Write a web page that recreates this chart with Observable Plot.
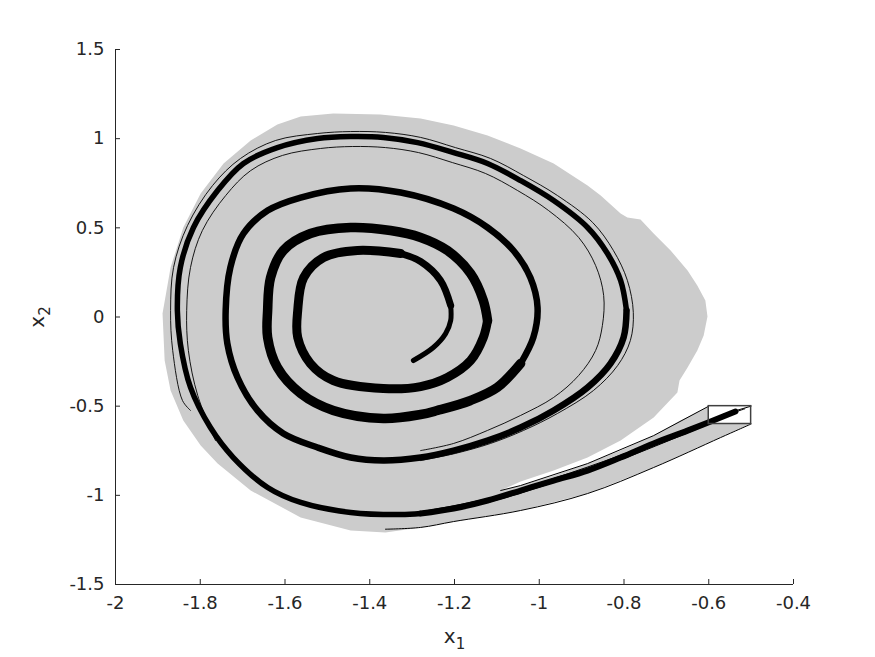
<!DOCTYPE html>
<html><head><meta charset="utf-8">
<script src="https://cdn.jsdelivr.net/npm/d3@7"></script>
<script src="https://cdn.jsdelivr.net/npm/@observablehq/plot@0.6"></script>
<style>
body{margin:0;background:#fff;}
#chart svg{display:block;}
</style></head><body><div id="chart"></div>
<script>
// ---- tick values ----
const xTicks = [-2, -1.8, -1.6, -1.4, -1.2, -1, -0.8, -0.6, -0.4];
const yTicks = [-1.5, -1, -0.5, 0, 0.5, 1, 1.5];

// ---- reachable set (gray region outline) ----
const reachSet = [
  [-0.600,-0.500],[-0.667,-0.580],[-0.730,-0.665],[-0.808,-0.749],[-0.886,-0.822],[-0.966,-0.889],
  [-1.044,-0.945],[-1.091,-0.973],[-1.044,-0.923],[-0.966,-0.861],[-0.886,-0.788],[-0.808,-0.693],
  [-0.730,-0.564],[-0.674,-0.423],[-0.669,-0.356],[-0.650,-0.283],[-0.627,-0.188],[-0.612,-0.104],
  [-0.603,0.003],[-0.608,0.093],[-0.627,0.177],[-0.650,0.261],[-0.690,0.373],[-0.730,0.468],
  [-0.761,0.547],[-0.792,0.558],[-0.808,0.580],[-0.855,0.681],[-0.886,0.737],[-0.966,0.861],
  [-1.044,0.945],[-1.122,1.018],[-1.202,1.074],[-1.280,1.113],[-1.375,1.136],[-1.486,1.141],
  [-1.563,1.124],[-1.618,1.079],[-1.681,0.990],[-1.745,0.861],[-1.799,0.692],[-1.840,0.502],
  [-1.870,0.278],[-1.889,0.020],[-1.884,-0.244],[-1.870,-0.412],[-1.840,-0.580],[-1.799,-0.721],
  [-1.759,-0.822],[-1.681,-0.973],[-1.563,-1.124],[-1.445,-1.197],[-1.363,-1.209],[-1.280,-1.180],
  [-1.202,-1.147],[-1.044,-1.085],[-0.886,-0.990],[-0.730,-0.844],[-0.572,-0.676],[-0.500,-0.600],
  [-0.600,-0.600]
];

// ---- tube edges ----
const tubeUpper = [[-0.600,-0.500],[-0.730,-0.665],[-0.886,-0.822],[-1.044,-0.945],[-1.091,-0.973]];
const tubeLower = [[-0.500,-0.600],[-0.572,-0.676],[-0.730,-0.844],[-0.886,-0.990],[-1.044,-1.085],[-1.202,-1.147],[-1.280,-1.180],[-1.363,-1.190]];
const boxDiagonal = [[-0.500,-0.500],[-0.565,-0.545]];

// ---- initial set ----
const initBox = [{x1: -0.6, x2: -0.5, y1: -0.6, y2: -0.5}];

// ---- simulated trajectory bundle (centre line, piecewise) ----
const tube = [
  [-0.537,-0.530],[-0.650,-0.637],[-0.730,-0.709],[-0.808,-0.788],[-0.886,-0.861],[-0.966,-0.917],
  [-1.044,-0.973],[-1.122,-1.029],[-1.202,-1.074],[-1.280,-1.102]
];
const tubeFanA = [[-0.515,-0.515],[-0.650,-0.625],[-0.808,-0.775],[-0.966,-0.905],[-1.122,-1.018],[-1.280,-1.092]];
const tubeFanB = [[-0.560,-0.560],[-0.650,-0.650],[-0.808,-0.800],[-0.966,-0.928],[-1.122,-1.040],[-1.280,-1.112]];
const loop1 = [
  [-1.280,-1.102],[-1.327,-1.108],[-1.445,-1.096],[-1.563,-1.040],[-1.641,-0.956],[-1.722,-0.788],
  [-1.776,-0.620],[-1.823,-0.395],[-1.847,-0.149],[-1.854,0.036],[-1.847,0.278],[-1.816,0.502],
  [-1.759,0.709],[-1.698,0.861],[-1.618,0.950],[-1.523,1.001],[-1.445,1.012],[-1.368,1.007],
  [-1.287,0.978],[-1.202,0.922],[-1.122,0.861],[-1.044,0.765],[-0.966,0.653],[-0.886,0.502],
  [-0.839,0.356],[-0.808,0.205],[-0.794,0.036]
];
const loop2 = [
  [-0.794,0.036],[-0.801,-0.115],[-0.832,-0.261],[-0.886,-0.395],[-0.966,-0.524],[-1.044,-0.620],
  [-1.122,-0.693],[-1.202,-0.749],[-1.280,-0.788],[-1.368,-0.805],[-1.445,-0.788],[-1.523,-0.732],
  [-1.604,-0.653],[-1.665,-0.524],[-1.712,-0.339],[-1.736,-0.149],[-1.740,0.036],[-1.729,0.278],
  [-1.698,0.468],[-1.641,0.597],[-1.563,0.670],[-1.445,0.721],[-1.327,0.698],[-1.202,0.608],
  [-1.122,0.502],[-1.061,0.373],[-1.021,0.221],[-1.004,0.053],[-1.014,-0.115],[-1.044,-0.261]
];
const loop3 = [
  [-1.044,-0.261],[-1.099,-0.395],[-1.162,-0.468],[-1.240,-0.524],
  [-1.280,-0.547],[-1.368,-0.569],[-1.486,-0.524],[-1.563,-0.429],[-1.618,-0.283],[-1.641,-0.115],
  [-1.641,0.036],[-1.634,0.221],[-1.604,0.373],[-1.540,0.468],[-1.445,0.502],[-1.351,0.485],
  [-1.280,0.446],[-1.217,0.373],[-1.162,0.244],[-1.132,0.093],[-1.122,-0.020]
];
const loop4 = [
  [-1.122,-0.020],[-1.132,-0.115],[-1.162,-0.244],[-1.217,-0.339],[-1.280,-0.390],[-1.368,-0.401],
  [-1.486,-0.356],[-1.540,-0.261],[-1.570,-0.115],[-1.570,0.036],[-1.556,0.221],[-1.509,0.334],
  [-1.429,0.373],[-1.327,0.356]
];
const loop4b = [[-1.327,0.356],[-1.280,0.311],[-1.233,0.205],[-1.209,0.064]];
const tail = [[-1.209,0.064],[-1.209,-0.020],[-1.221,-0.093],[-1.250,-0.171],[-1.297,-0.244]];

// ---- loose strands around the outer loop ----
const strandIn = [
  [-1.764,-0.693],[-1.806,-0.440],[-1.828,-0.188],[-1.832,0.036],[-1.823,0.278],[-1.795,0.485],
  [-1.740,0.681],[-1.681,0.821],[-1.606,0.906],[-1.516,0.945],[-1.441,0.956],[-1.363,0.950],
  [-1.285,0.922],[-1.205,0.866],[-1.127,0.805],[-1.051,0.709],[-0.978,0.597],[-0.907,0.446],
  [-0.867,0.289],[-0.848,0.121],[-0.851,-0.048],[-0.867,-0.188],[-0.907,-0.328],[-0.966,-0.451],
  [-1.044,-0.552],[-1.122,-0.636],[-1.202,-0.709],[-1.280,-0.749]
];
const strandOut = [
  [-1.823,-0.524],[-1.842,-0.468],[-1.865,-0.188],[-1.870,0.036],[-1.863,0.278],[-1.830,0.513],
  [-1.771,0.737],[-1.705,0.889],[-1.622,0.990],[-1.523,1.029],[-1.445,1.040],[-1.363,1.035],
  [-1.280,1.007],[-1.198,0.950],[-1.115,0.889],[-1.037,0.793],[-0.957,0.681],[-0.874,0.530],
  [-0.825,0.373],[-0.792,0.205],[-0.778,0.025],[-0.785,-0.132],[-0.815,-0.272],[-0.872,-0.412],
  [-0.957,-0.541],[-1.037,-0.636],[-1.115,-0.709],[-1.198,-0.765],[-1.280,-0.805]
];

const axisColor = "#262626";
const XY = {x: d => d[0], y: d => d[1]};
const traj = (data, w) => Plot.line(data, {...XY, stroke: "black", strokeWidth: w, strokeLinejoin: "round", strokeLinecap: "round", curve: "catmull-rom"});
const thin = (data, w) => Plot.line(data, {...XY, stroke: "black", strokeWidth: w, curve: "catmull-rom"});

const chart = Plot.plot({
  width: 875,
  height: 657,
  marginLeft: 115,
  marginRight: 82,
  marginTop: 49,
  marginBottom: 73,
  style: {fontFamily: "DejaVu Sans", fontSize: "18px", color: axisColor, background: "#fff"},
  x: {domain: [-2, -0.4]},
  y: {domain: [-1.5, 1.5]},
  marks: [
    Plot.line(reachSet, {...XY, fill: "#cccccc", stroke: "none", curve: "linear-closed"}),
    Plot.rect(initBox, {x1: "x1", x2: "x2", y1: "y1", y2: "y2", fill: "white", stroke: "none"}),
    Plot.line(tubeUpper, {...XY, stroke: "black", strokeWidth: 1}),
    Plot.line(tubeLower, {...XY, stroke: "black", strokeWidth: 1, curve: "catmull-rom"}),
    thin(strandIn, 0.9),
    thin(strandOut, 0.9),
    thin(tubeFanA, 1),
    thin(tubeFanB, 1),
    traj(tube, 6),
    traj(loop1, 5.5),
    traj(loop2, 6.5),
    traj(loop3, 9.5),
    traj(loop4, 9),
    traj(loop4b, 7),
    traj(tail, 5),
    Plot.line(boxDiagonal, {...XY, stroke: "black", strokeWidth: 1}),
    Plot.rect(initBox, {x1: "x1", x2: "x2", y1: "y1", y2: "y2", fill: "none", stroke: "#404040", strokeWidth: 1.5}),
    Plot.ruleX([-2], {stroke: axisColor}),
    Plot.ruleY([-1.5], {stroke: axisColor}),
    Plot.axisX({ticks: xTicks, tickSize: -5, text: null, label: null, stroke: axisColor}),
    Plot.axisX({ticks: xTicks, tickSize: 0, tickPadding: 12, tickFormat: d => String(d), label: "x1", labelArrow: "none", labelAnchor: "center", labelOffset: 58}),
    Plot.axisY({ticks: yTicks, tickSize: -5, text: null, label: null, stroke: axisColor}),
    Plot.axisY({ticks: yTicks, tickSize: 0, tickPadding: 11, tickFormat: d => String(d), label: "x2", labelArrow: "none", labelAnchor: "center", labelOffset: 86})
  ]
});

// render subscripts in axis labels
d3.select(chart).selectAll('g[aria-label="x-axis label"] text, g[aria-label="y-axis label"] text').each(function() {
  const t = d3.select(this);
  const s = t.text().replace(/[\u2190-\u2193]/g, "").trim();
  t.text(s[0]).style("font-size", "20px");
  t.append("tspan").attr("dy", "0.4em").style("font-size", "15px").text(s.slice(1));
});

document.getElementById("chart").appendChild(chart);
</script>
</body></html>
